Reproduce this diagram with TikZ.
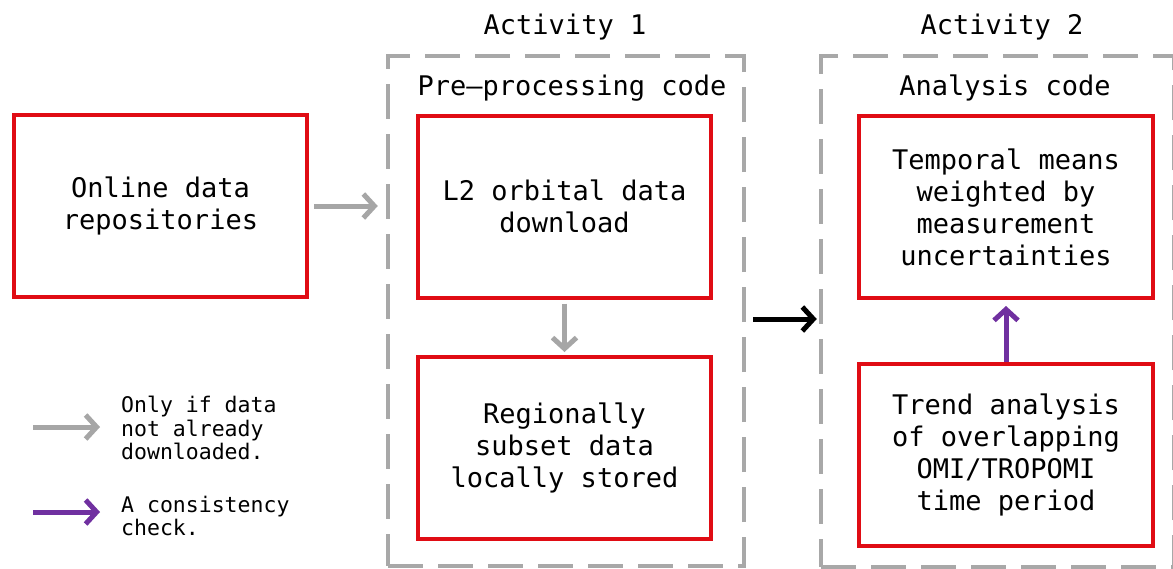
\documentclass[tikz,border=0pt]{standalone}
\usepackage{fontspec}
\setmainfont{DejaVu Sans Mono}
\setmonofont{DejaVu Sans Mono}
\usetikzlibrary{arrows.meta}
\definecolor{boxred}{RGB}{224,12,20}
\definecolor{dashgray}{RGB}{168,168,168}
\definecolor{arrgray}{RGB}{166,166,166}
\definecolor{chkpurple}{RGB}{112,48,160}
\tikzset{
  redbox/.style={draw=boxred, line width=4pt, minimum width=293pt, minimum height=182pt, inner sep=0pt, align=center, font=\fontsize{27}{32}\selectfont},
  actbox/.style={draw=dashgray, line width=4.5pt, dash pattern=on 35pt off 15pt, inner sep=0pt},
  heading/.style={inner sep=0pt, font=\fontsize{27}{32}\selectfont},
  legtext/.style={inner sep=0pt, align=left, anchor=west, font=\fontsize{21.5}{23.5}\selectfont},
  flowarrow/.style={line width=5pt, -{Straight Barb[length=11pt,width=24pt]}},
  grayarrow/.style={flowarrow, draw=arrgray},
  blackarrow/.style={flowarrow, draw=black},
  purplearrow/.style={flowarrow, draw=chkpurple},
}
\begin{document}
\begin{tikzpicture}[x=1pt,y=-1pt]
\useasboundingbox (0,0) rectangle (1173,568);
\clip (0,0) rectangle (1173,568);
\fill[white] (0,0) rectangle (1173,568);

% activity frames
\node[actbox, minimum width=356pt, minimum height=510pt] (act1) at (566,311) {};
\node[actbox, minimum width=353pt, minimum height=511pt] (act2) at (997.5,311.5) {};

% headings
\node[heading] (act1lbl) at (565,27) {Activity 1};
\node[heading] (act2lbl) at (1002,27) {Activity 2};
\node[heading] (prelbl) at (572,88) {Pre–processing code};
\node[heading] (analbl) at (1005,88) {Analysis code};

% boxes
\node[redbox] (online) at (160.5,206) {Online data\\repositories};
\node[redbox] (l2) at (564.5,206.5) {L2 orbital data\\download};
\node[redbox] (reg) at (564.5,448) {Regionally\\subset data\\locally stored};
\node[redbox, minimum width=294pt] (temporal) at (1006,207) {Temporal means\\weighted by\\measurement\\uncertainties};
\node[redbox, minimum width=294pt] (trend) at (1006,455) {Trend analysis\\of overlapping\\OMI/TROPOMI\\time period};

% connectors
\draw[grayarrow, shorten <=5pt, shorten >=8pt] (online.east) -- (online.east -| act1.west);
\draw[grayarrow, shorten <=4pt, shorten >=3pt] (l2.south) -- (reg.north);
\draw[blackarrow, shorten <=7pt, shorten >=2pt] ([yshift=-8pt]act1.east) -- ([yshift=-8pt]act1.east -| act2.west);
\draw[purplearrow, shorten <=0pt, shorten >=6pt] (trend.north) -- (temporal.south);

% legend
\node[legtext] (leg1txt) at (121,428) {Only if data\\not already\\downloaded.};
\node[legtext] (leg2txt) at (121,516) {A consistency\\check.};
\coordinate (leg1start) at (33,427);
\coordinate (leg2start) at (33,512);
\draw[grayarrow, shorten >=21pt] (leg1start) -- (leg1start -| leg1txt.west);
\draw[purplearrow, shorten >=21pt] (leg2start) -- (leg2start -| leg2txt.west);
\end{tikzpicture}
\end{document}
